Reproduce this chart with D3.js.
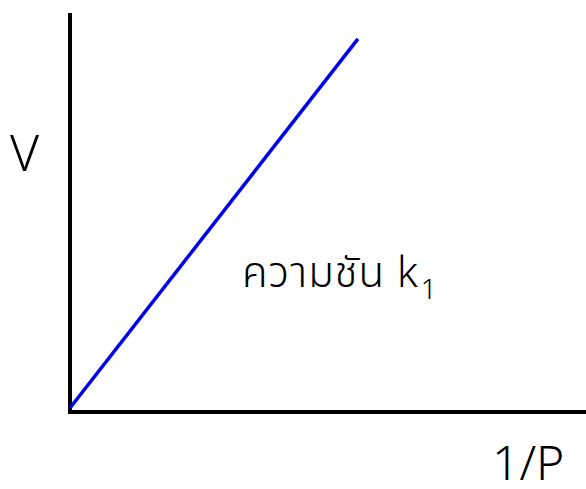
<!DOCTYPE html>
<html>
<head>
<meta charset="utf-8">
<script src="https://cdn.jsdelivr.net/npm/d3@7"></script>
<style>
  body { margin: 0; background: #fff; }
  text { font-family: "Noto Sans Thai", "Noto Sans", "DejaVu Sans", sans-serif; fill: #000; font-weight: 300; }
</style>
</head>
<body>
<div id="chart"></div>
<script>
// data
const lineX = [0, 5.58];
const lineY = [0.1, 9.35];
const xLabel = "1/P";
const yLabel = "V";
const slopeLabel = "ความชัน k";
const slopeSub = "1";

const margin = {top: 13, right: 0, bottom: 77, left: 70};
const width = 586 - margin.left - margin.right;
const height = 489 - margin.top - margin.bottom;

const svg = d3.select("#chart")
    .append("svg")
    .attr("width", 586)
    .attr("height", 489)
    .append("g")
    .attr("transform", "translate(" + margin.left + "," + margin.top + ")");

let xScale = d3.scaleLinear().domain([0, 10]).range([0, width]);
let yScale = d3.scaleLinear().domain([0, 10]).range([height, 0]);

// axes as plain thick lines
svg.append("line")
    .attr("x1", 0).attr("x2", 0)
    .attr("y1", yScale(10)).attr("y2", yScale(0) + 2)
    .attr("stroke", "#000")
    .attr("stroke-width", 4);
svg.append("line")
    .attr("x1", -2).attr("x2", xScale(10))
    .attr("y1", yScale(0)).attr("y2", yScale(0))
    .attr("stroke", "#000")
    .attr("stroke-width", 4);

// the V vs 1/P line
const pts = lineX.map((d, i) => [d, lineY[i]]);
svg.append("path")
    .datum(pts)
    .attr("fill", "none")
    .attr("stroke", "#0000f0")
    .attr("stroke-width", 3.5)
    .attr("d", d3.line().x(d => xScale(d[0])).y(d => yScale(d[1])));

// labels
svg.append("text")
    .attr("x", -60)
    .attr("y", 158)
    .style("font-size", "50px")
    .text(yLabel);

svg.append("text")
    .attr("x", 422)
    .attr("y", 467)
    .style("font-size", "48px")
    .text(xLabel);

let slope = svg.append("text")
    .attr("x", 172)
    .attr("y", 274)
    .style("font-size", "42px")
    .style("letter-spacing", "1px");
slope.append("tspan").text(slopeLabel);
slope.append("tspan")
    .attr("dx", 2)
    .attr("dy", 12)
    .style("font-size", "28px")
    .text(slopeSub);
</script>
</body>
</html>
